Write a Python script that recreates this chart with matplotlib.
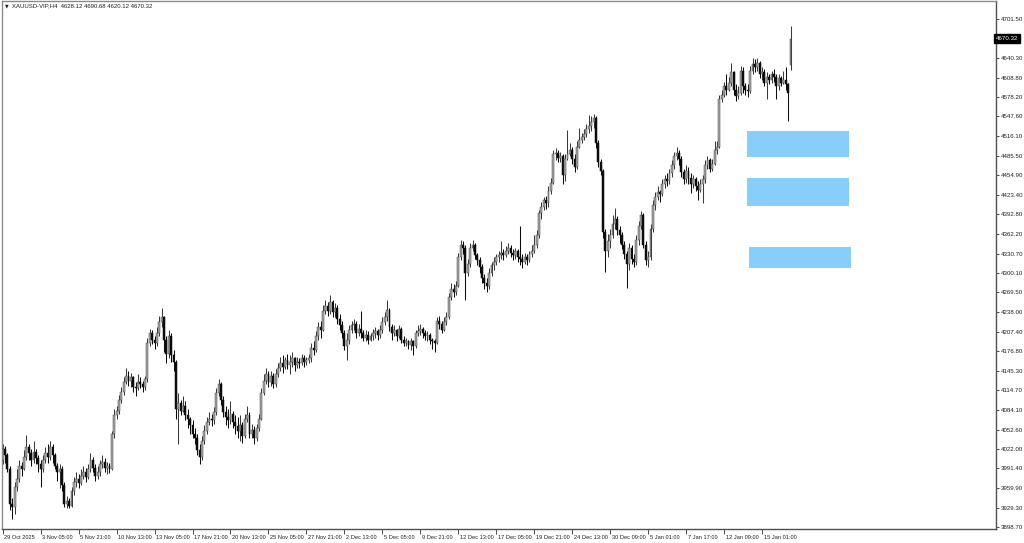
import matplotlib
matplotlib.use("Agg")
import matplotlib.pyplot as plt
import matplotlib.transforms as mtransforms
from matplotlib.patches import Rectangle

# ---------------- data ----------------
symbol_title = "XAUUSD-VIP,H4  4628.12 4690.68 4620.12 4670.32"
first_open = 4005.0
last_open = 4628.12

closes = [
    4022, 4012, 3990, 3935, 3930, 3962, 3975, 3995, 3990, 4010,
    4025, 4015, 4005, 4018, 4008, 3998, 3990, 4005, 4015, 4010,
    4025, 4012, 3995, 3985, 3990, 3965, 3935, 3940, 3932, 3955,
    3970, 3975, 3968, 3980, 3985, 3978, 3990, 4005, 3992, 3980,
    3985, 3998, 4002, 3992, 3995, 3990, 4045, 4075, 4082, 4100,
    4112, 4128, 4138, 4130, 4135, 4120, 4118, 4128, 4125, 4120,
    4132, 4190, 4205, 4195, 4190, 4205, 4222, 4230, 4195, 4172,
    4200, 4170, 4160, 4085, 4095, 4082, 4090, 4075, 4070, 4060,
    4045, 4040, 4020, 4010, 4035, 4050, 4065, 4070, 4068, 4080,
    4110, 4125, 4100, 4080, 4072, 4068, 4078, 4065, 4058, 4050,
    4060, 4042, 4070, 4075, 4045, 4052, 4040, 4055, 4070, 4110,
    4130, 4140, 4128, 4138, 4125, 4140, 4150, 4158, 4152, 4162,
    4155, 4160, 4165, 4155, 4160, 4158, 4165, 4160, 4162, 4165,
    4182, 4178, 4200, 4215, 4210, 4240, 4248, 4240, 4255, 4238,
    4245, 4228, 4218, 4205, 4185, 4195, 4210, 4218, 4220, 4205,
    4212, 4205, 4198, 4202, 4195, 4200, 4205, 4208, 4202, 4210,
    4222, 4230, 4242, 4215, 4205, 4210, 4200, 4212, 4195, 4190,
    4192, 4186, 4192, 4185, 4205, 4208, 4212, 4205, 4200, 4202,
    4195, 4192, 4190, 4225, 4220, 4210, 4222, 4230, 4262, 4275,
    4270, 4280, 4325, 4345, 4340, 4300, 4315, 4340, 4345, 4328,
    4320, 4310, 4292, 4285, 4280, 4300, 4312, 4318, 4325, 4328,
    4332, 4328, 4335, 4340, 4332, 4328, 4335, 4325, 4322, 4318,
    4325, 4320, 4330, 4335, 4345, 4360, 4395, 4405, 4415, 4410,
    4430, 4442, 4488, 4490, 4482, 4485, 4455, 4480, 4488, 4495,
    4480, 4468, 4500, 4510, 4515, 4520, 4528, 4532, 4538, 4545,
    4505, 4475, 4462, 4365, 4335, 4350, 4360, 4378, 4385, 4368,
    4360, 4345, 4330, 4315, 4340, 4322, 4318, 4352, 4375, 4392,
    4345, 4320, 4325, 4370, 4408, 4420, 4428, 4425, 4440, 4448,
    4445, 4458, 4470, 4485, 4490, 4480, 4460, 4448, 4462, 4450,
    4440, 4448, 4438, 4432, 4440, 4448, 4470, 4478, 4465, 4472,
    4495, 4500, 4575, 4582, 4595, 4590, 4600, 4618, 4590, 4580,
    4585, 4620, 4595, 4590, 4588, 4620, 4630, 4625, 4632, 4615,
    4618, 4600, 4610, 4605, 4615, 4610, 4595, 4608, 4600, 4605,
    4598, 4585, 4670.32,
]

highs = [
    4030, 4026, 4015, 3995, 3945, 3970, 3990, 4005, 4002, 4020,
    4044, 4030, 4022, 4035, 4022, 4012, 4005, 4012, 4025, 4030,
    4035, 4030, 4015, 4000, 3998, 3995, 3970, 3948, 3945, 3962,
    3978, 3985, 3982, 3990, 3995, 3992, 3998, 4015, 4010, 3998,
    3995, 4005, 4012, 4008, 4002, 4000, 4050, 4085, 4090, 4108,
    4120, 4136, 4150, 4145, 4142, 4138, 4128, 4140, 4135, 4130,
    4138, 4198, 4212, 4210, 4200, 4215, 4232, 4245, 4232, 4200,
    4210, 4205, 4178, 4162, 4110, 4100, 4105, 4098, 4085, 4072,
    4068, 4055, 4045, 4030, 4042, 4060, 4072, 4080, 4078, 4088,
    4118, 4132, 4128, 4105, 4090, 4085, 4098, 4082, 4075, 4072,
    4075, 4065, 4078, 4090, 4080, 4062, 4058, 4062, 4078, 4118,
    4140, 4150, 4145, 4145, 4142, 4148, 4158, 4168, 4170, 4168,
    4172, 4170, 4175, 4168, 4168, 4165, 4172, 4170, 4168, 4172,
    4190, 4192, 4208, 4222, 4225, 4250, 4258, 4255, 4265, 4258,
    4252, 4250, 4235, 4225, 4210, 4205, 4218, 4225, 4228, 4225,
    4220, 4240, 4210, 4210, 4208, 4206, 4212, 4215, 4212, 4218,
    4230, 4238, 4257, 4245, 4220, 4218, 4212, 4218, 4215, 4200,
    4198, 4195, 4198, 4195, 4210, 4218, 4220, 4215, 4210, 4208,
    4205, 4198, 4196, 4230, 4232, 4225, 4230, 4238, 4268, 4285,
    4282, 4288, 4332, 4352, 4350, 4345, 4322, 4348, 4352, 4348,
    4332, 4325, 4315, 4298, 4292, 4308, 4318, 4325, 4330, 4335,
    4350, 4338, 4342, 4348, 4345, 4338, 4340, 4338, 4375, 4330,
    4332, 4330, 4335, 4345, 4360, 4368, 4400, 4412, 4420, 4422,
    4438, 4450, 4495, 4498, 4495, 4492, 4488, 4488, 4526, 4505,
    4500, 4488, 4508, 4530, 4522, 4528, 4535, 4550, 4548, 4552,
    4548, 4510, 4480, 4465, 4370, 4362, 4370, 4392, 4403, 4390,
    4375, 4365, 4350, 4335, 4348, 4345, 4330, 4360, 4382, 4398,
    4395, 4350, 4335, 4378, 4415, 4428, 4438, 4432, 4448, 4455,
    4458, 4465, 4478, 4492, 4499, 4495, 4485, 4465, 4470, 4468,
    4458, 4455, 4452, 4445, 4448, 4455, 4478, 4485, 4482, 4480,
    4508, 4508, 4582, 4590, 4602, 4615, 4610, 4632, 4620, 4598,
    4595, 4628, 4625, 4600, 4598, 4628, 4640, 4638, 4640, 4635,
    4625, 4622, 4618, 4615, 4620, 4622, 4615, 4615, 4612, 4620,
    4625, 4600, 4690.68,
]

lows = [
    3998, 4000, 3985, 3925, 3912, 3920, 3955, 3970, 3980, 3988,
    4005, 4005, 3995, 4000, 3998, 3985, 3962, 3985, 4000, 4000,
    4005, 4000, 3990, 3972, 3960, 3955, 3930, 3929, 3928, 3930,
    3950, 3962, 3960, 3965, 3975, 3970, 3975, 3985, 3985, 3972,
    3975, 3980, 3992, 3985, 3982, 3984, 3988, 4040, 4070, 4078,
    4095, 4108, 4125, 4122, 4120, 4112, 4105, 4115, 4118, 4112,
    4115, 4128, 4185, 4188, 4180, 4185, 4200, 4215, 4175, 4158,
    4165, 4160, 4145, 4070, 4030, 4075, 4080, 4068, 4055, 4045,
    4040, 4030, 4012, 3999, 4005, 4030, 4045, 4060, 4058, 4062,
    4075, 4105, 4092, 4072, 4060, 4055, 4062, 4055, 4045, 4040,
    4035, 4032, 4040, 4065, 4040, 4040, 4030, 4035, 4050, 4068,
    4108, 4125, 4120, 4122, 4118, 4120, 4135, 4145, 4142, 4148,
    4148, 4140, 4152, 4145, 4150, 4150, 4155, 4152, 4155, 4158,
    4160, 4170, 4175, 4195, 4198, 4208, 4235, 4232, 4236, 4230,
    4230, 4220, 4210, 4198, 4178, 4163, 4188, 4205, 4210, 4198,
    4200, 4198, 4192, 4192, 4188, 4192, 4195, 4198, 4195, 4198,
    4205, 4218, 4225, 4208, 4195, 4200, 4192, 4198, 4190, 4185,
    4185, 4180, 4178, 4170, 4182, 4200, 4202, 4198, 4195, 4192,
    4188, 4180, 4175, 4188, 4212, 4205, 4208, 4218, 4228, 4258,
    4262, 4265, 4278, 4320, 4330, 4258, 4295, 4310, 4335, 4322,
    4312, 4300, 4285, 4275, 4270, 4275, 4295, 4305, 4312, 4318,
    4322, 4320, 4325, 4330, 4325, 4320, 4322, 4318, 4312, 4308,
    4315, 4312, 4318, 4325, 4332, 4340, 4355, 4385, 4400, 4402,
    4405, 4425, 4440, 4478, 4475, 4475, 4440, 4445, 4478, 4485,
    4472, 4460, 4465, 4498, 4505, 4510, 4515, 4522, 4525, 4530,
    4498, 4468, 4455, 4355, 4302, 4325, 4340, 4355, 4370, 4360,
    4348, 4338, 4322, 4276, 4305, 4315, 4310, 4312, 4345, 4370,
    4340, 4312, 4310, 4320, 4365, 4400, 4415, 4412, 4422, 4435,
    4438, 4440, 4452, 4465, 4478, 4470, 4452, 4440, 4442, 4440,
    4426, 4435, 4430, 4415, 4428, 4410, 4442, 4465, 4460, 4462,
    4470, 4488, 4498, 4570, 4578, 4582, 4588, 4595, 4582, 4572,
    4575, 4582, 4585, 4582, 4578, 4585, 4615, 4618, 4620, 4608,
    4605, 4595, 4575, 4598, 4600, 4602, 4575, 4590, 4595, 4598,
    4590, 4540, 4620.12,
]

x_tick_labels = [
    "29 Oct 2025", "3 Nov 05:00", "5 Nov 21:00", "10 Nov 13:00", "13 Nov 05:00",
    "17 Nov 21:00", "20 Nov 13:00", "25 Nov 05:00", "27 Nov 21:00", "2 Dec 13:00",
    "5 Dec 05:00", "9 Dec 21:00", "12 Dec 13:00", "17 Dec 05:00", "19 Dec 21:00",
    "24 Dec 13:00", "30 Dec 09:00", "5 Jan 01:00", "7 Jan 17:00", "12 Jan 09:00",
    "15 Jan 01:00",
]
bars_per_label = 16

y_tick_values = [
    4701.50, 4640.30, 4608.80, 4578.20, 4547.60, 4516.10, 4485.50, 4454.90,
    4423.40, 4392.80, 4362.20, 4330.70, 4300.10, 4269.50, 4238.00, 4207.40,
    4176.80, 4145.30, 4114.70, 4084.10, 4052.60, 4022.00, 3991.40, 3959.90,
    3929.30, 3898.70,
]
current_price = 4670.32

# zones: (first bar, last bar, upper price, lower price)
zone_bars_start = [313.7, 313.7, 314.5]
zone_bars_end = [356.6, 356.6, 357.5]
zone_top = [4525.3, 4450.2, 4341.2]
zone_bottom = [4483.4, 4406.0, 4308.0]
zone_color = "#87CEFA"

# ---------------- drawing ----------------
plt.rcParams["font.family"] = ["Liberation Sans", "DejaVu Sans"]
X_FS = 4.1
Y_FS = 4.4

W, H = 1024, 543
fig = plt.figure(figsize=(W / 100, H / 100), dpi=100)
fig.patch.set_facecolor("white")
ax = fig.add_axes([2 / W, (H - 529) / H, (996 - 2) / W, (529 - 1) / H])
ax.set_facecolor("white")

n = len(closes)
opens = [first_open] + closes[:-1]
opens[-1] = last_open

bull_body = "#a6a6a6"
bull_edge = "#4a4a4a"
bull_wick = "#3a3a3a"
bear_col = "#0c0c0c"
body_w = 0.8
for i in range(n):
    o, c = opens[i], closes[i]
    h = max(highs[i], o, c)
    l = min(lows[i], o, c)
    bull = c >= o
    wick_col = bull_wick if bull else bear_col
    ax.vlines(i, l, h, color=wick_col, lw=0.75, zorder=2)
    bottom = min(o, c)
    height = max(abs(c - o), 0.8)
    ax.add_patch(Rectangle((i - body_w / 2, bottom), body_w, height,
                           facecolor=bull_body if bull else bear_col,
                           edgecolor=bull_edge if bull else bear_col,
                           lw=0.35, zorder=3))

for xs, xe, yt, yb in zip(zone_bars_start, zone_bars_end, zone_top, zone_bottom):
    ax.add_patch(Rectangle((xs, yb), xe - xs, yt - yb, facecolor=zone_color,
                           edgecolor="none", zorder=4))

ax.set_xlim(-0.295, 418.6)
ax.set_ylim(3895.55, 4729.95)

# frame
for side in ["left", "top"]:
    ax.spines[side].set_color("#8a8a8a")
    ax.spines[side].set_linewidth(1.0)
for side in ["right", "bottom"]:
    ax.spines[side].set_color("#505050")
    ax.spines[side].set_linewidth(1.0)

# x axis ticks
xt = [k * bars_per_label for k in range(len(x_tick_labels))]
ax.set_xticks(xt)
ax.set_xticklabels(x_tick_labels)
ax.tick_params(axis="x", direction="out", length=3.5, width=0.6, color="#303030",
               labelsize=X_FS, pad=0.6, labelcolor="#202020")
for lab in ax.get_xticklabels():
    lab.set_ha("left")
    lab.set_transform(lab.get_transform() + mtransforms.ScaledTranslation(1.5 / 100, 0, fig.dpi_scale_trans))

# y axis ticks on right
ax.yaxis.tick_right()
ax.set_yticks(y_tick_values)
ax.set_yticklabels([f"{v:.2f}" for v in y_tick_values])
ax.tick_params(axis="y", direction="out", length=2.5, width=0.6, color="#303030",
               labelsize=Y_FS, pad=1.2, labelcolor="#202020")
ax.tick_params(axis="y", which="both", left=False)

# current price label
trans = mtransforms.blended_transform_factory(ax.transAxes, ax.transData)
ax.text(1.0, current_price, f"{current_price:.2f}", transform=trans,
        ha="left", va="center", fontsize=Y_FS, color="white",
        bbox=dict(boxstyle="square,pad=0.3", facecolor="black", edgecolor="black"),
        zorder=10, clip_on=False)

# title at top left
fig.text(5 / W, 1 - 5.5 / H, "\u25BC", fontsize=3.4, color="#202020",
         va="center", ha="left", family=["DejaVu Sans"])
fig.text(12 / W, 1 - 5.5 / H, symbol_title, fontsize=4.3, color="#202020",
         va="center", ha="left")

fig.savefig("out.png", dpi=100, facecolor="white")
